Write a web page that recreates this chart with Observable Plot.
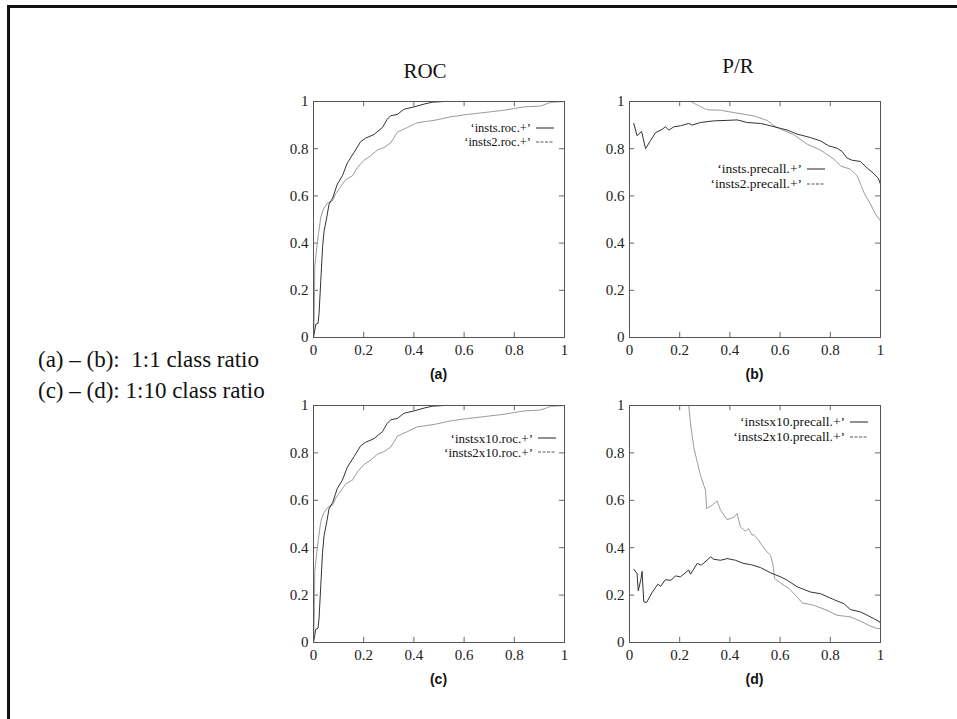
<!DOCTYPE html>
<html><head><meta charset="utf-8">
<script src="https://cdn.jsdelivr.net/npm/d3@7"></script>
<script src="https://cdn.jsdelivr.net/npm/@observablehq/plot@0.6"></script>
<style>
body{margin:0;background:#fff;}
#root{position:relative;width:957px;height:719px;overflow:hidden;font-family:"Liberation Serif","Times New Roman",serif;color:#111;}
.frame{position:absolute;left:7px;top:5px;width:1000px;height:800px;border-top:3px solid #111;border-left:3px solid #111;}
.abs{position:absolute;white-space:nowrap;line-height:1;}
</style></head><body><div id="root"><div class="frame"></div></div>
<script>
// ---- data ----
const ticks = [0, 0.2, 0.4, 0.6, 0.8, 1];
const panelTitles = ["ROC", "P/R"];
const panelLabels = ["(a)", "(b)", "(c)", "(d)"];
const noteLines = ["(a) \u2013 (b):\u00a0 1:1 class ratio", "(c) \u2013 (d): 1:10 class ratio"];
const legendA = ["\u2018insts.roc.+\u2019", "\u2018insts2.roc.+\u2019"];
const legendB = ["\u2018insts.precall.+\u2019", "\u2018insts2.precall.+\u2019"];
const legendC = ["\u2018instsx10.roc.+\u2019", "\u2018insts2x10.roc.+\u2019"];
const legendD = ["\u2018instsx10.precall.+\u2019", "\u2018insts2x10.precall.+\u2019"];

// (a) ROC, 1:1 ratio  [fpr, tpr]
const rocInsts = [[0,0],[0.005,0.03],[0.009,0.056],[0.018,0.06],[0.022,0.1],[0.029,0.24],[0.036,0.38],[0.042,0.45],[0.053,0.51],[0.062,0.565],[0.076,0.59],[0.095,0.65],[0.115,0.685],[0.135,0.74],[0.162,0.785],[0.188,0.83],[0.208,0.845],[0.241,0.86],[0.275,0.89],[0.294,0.925],[0.308,0.94],[0.334,0.945],[0.36,0.967],[0.40,0.977],[0.44,0.989],[0.473,0.997],[0.52,1],[1,1]];
const rocInsts2 = [[0,0],[0.003,0.1],[0.005,0.30],[0.012,0.37],[0.02,0.44],[0.029,0.51],[0.04,0.545],[0.056,0.57],[0.076,0.58],[0.089,0.61],[0.109,0.64],[0.129,0.67],[0.155,0.685],[0.175,0.72],[0.20,0.75],[0.228,0.77],[0.255,0.795],[0.281,0.805],[0.308,0.825],[0.334,0.87],[0.374,0.89],[0.414,0.91],[0.48,0.92],[0.546,0.935],[0.613,0.945],[0.679,0.953],[0.759,0.963],[0.838,0.977],[0.905,0.981],[0.944,0.996],[1,1]];
// (c) ROC, 1:10 ratio
const rocInstsX10 = [[0,0],[0.005,0.03],[0.009,0.056],[0.018,0.06],[0.022,0.1],[0.029,0.24],[0.036,0.38],[0.042,0.45],[0.053,0.51],[0.062,0.565],[0.076,0.59],[0.095,0.65],[0.115,0.685],[0.135,0.74],[0.162,0.785],[0.188,0.83],[0.208,0.845],[0.241,0.86],[0.275,0.89],[0.294,0.925],[0.308,0.94],[0.334,0.945],[0.36,0.967],[0.40,0.977],[0.44,0.989],[0.473,0.997],[0.52,1],[1,1]];
const rocInsts2X10 = [[0,0],[0.003,0.1],[0.005,0.30],[0.012,0.37],[0.02,0.44],[0.029,0.51],[0.04,0.545],[0.056,0.57],[0.076,0.58],[0.089,0.61],[0.109,0.64],[0.129,0.67],[0.155,0.685],[0.175,0.72],[0.20,0.75],[0.228,0.77],[0.255,0.795],[0.281,0.805],[0.308,0.825],[0.334,0.87],[0.374,0.89],[0.414,0.91],[0.48,0.92],[0.546,0.935],[0.613,0.945],[0.679,0.953],[0.759,0.963],[0.838,0.977],[0.905,0.981],[0.944,0.996],[1,1]];
// (b) P/R, 1:1 ratio  [recall, precision]
const prInsts = [[0.017,0.907],[0.03,0.855],[0.048,0.873],[0.064,0.80],[0.084,0.835],[0.104,0.868],[0.13,0.882],[0.143,0.893],[0.157,0.879],[0.177,0.893],[0.203,0.897],[0.236,0.907],[0.25,0.90],[0.283,0.911],[0.336,0.918],[0.389,0.92],[0.429,0.922],[0.469,0.911],[0.522,0.907],[0.562,0.897],[0.602,0.886],[0.628,0.879],[0.668,0.862],[0.721,0.847],[0.761,0.833],[0.794,0.812],[0.827,0.802],[0.847,0.788],[0.867,0.76],[0.887,0.751],[0.92,0.746],[0.947,0.718],[0.973,0.695],[0.991,0.675],[1,0.65]];
const prInsts2 = [[0.017,1],[0.243,1],[0.276,0.982],[0.309,0.965],[0.363,0.963],[0.416,0.953],[0.495,0.939],[0.548,0.92],[0.575,0.897],[0.602,0.883],[0.655,0.859],[0.708,0.819],[0.761,0.794],[0.814,0.756],[0.841,0.727],[0.88,0.713],[0.907,0.685],[0.934,0.614],[0.96,0.565],[0.98,0.523],[1,0.494]];
// (d) P/R, 1:10 ratio
const prInstsX10 = [[0.017,0.309],[0.03,0.291],[0.035,0.218],[0.046,0.27],[0.05,0.30],[0.057,0.171],[0.068,0.169],[0.09,0.211],[0.113,0.246],[0.124,0.237],[0.143,0.265],[0.157,0.263],[0.166,0.263],[0.183,0.281],[0.203,0.277],[0.236,0.306],[0.243,0.288],[0.27,0.334],[0.286,0.326],[0.323,0.361],[0.336,0.351],[0.363,0.347],[0.389,0.354],[0.422,0.347],[0.456,0.333],[0.482,0.329],[0.522,0.316],[0.562,0.294],[0.602,0.277],[0.628,0.263],[0.668,0.235],[0.721,0.213],[0.761,0.206],[0.814,0.181],[0.854,0.164],[0.88,0.139],[0.92,0.129],[0.947,0.115],[0.973,0.101],[0.997,0.087],[1,0.08]];
const prInsts2X10 = [[0.017,1],[0.236,1],[0.243,0.923],[0.256,0.824],[0.27,0.761],[0.283,0.705],[0.296,0.663],[0.303,0.642],[0.307,0.565],[0.329,0.579],[0.349,0.597],[0.363,0.558],[0.389,0.518],[0.416,0.529],[0.429,0.544],[0.442,0.487],[0.462,0.47],[0.475,0.48],[0.489,0.452],[0.495,0.456],[0.515,0.431],[0.528,0.41],[0.548,0.382],[0.562,0.368],[0.572,0.326],[0.578,0.27],[0.602,0.251],[0.635,0.228],[0.668,0.192],[0.688,0.167],[0.734,0.157],[0.787,0.136],[0.827,0.115],[0.88,0.108],[0.92,0.09],[0.96,0.069],[0.987,0.059],[1,0.059]];

// ---- layout ----
const root = document.getElementById("root");
const SOLID = "#333", DOT = "#999";

function place(text, x, y, css, anchor) {
  const d = document.createElement("div");
  d.className = "abs";
  d.textContent = text;
  Object.assign(d.style, css);
  d.style.left = x + "px"; d.style.top = y + "px";
  d.style.transform = anchor === "right" ? "translate(-100%,-50%)" : anchor === "left" ? "translate(0,-50%)" : "translate(-50%,-50%)";
  root.appendChild(d);
}

function sample(x, y, len, dashed) {
  const s = document.createElementNS("http://www.w3.org/2000/svg", "svg");
  s.setAttribute("width", len); s.setAttribute("height", 4);
  s.style.position = "absolute"; s.style.left = x + "px"; s.style.top = (y - 2) + "px";
  const l = document.createElementNS("http://www.w3.org/2000/svg", "line");
  l.setAttribute("x1", 0); l.setAttribute("x2", len); l.setAttribute("y1", 2); l.setAttribute("y2", 2);
  l.setAttribute("stroke", dashed ? "#555" : "#222"); l.setAttribute("stroke-width", 1);
  if (dashed) l.setAttribute("stroke-dasharray", "3,1.5");
  s.appendChild(l); root.appendChild(s);
}

function panel({left, top, w, h, s1, s2, label, legend, legX, legY, legGap, legFont}) {
  const mL = 40, mR = 12, mT = 10, mB = 30;
  const p = Plot.plot({
    width: w + mL + mR, height: h + mT + mB,
    marginLeft: mL, marginRight: mR, marginTop: mT, marginBottom: mB,
    x: {domain: [0, 1]}, y: {domain: [0, 1]},
    style: {fontFamily: "'Liberation Serif', 'Times New Roman', serif", fontSize: "15px", color: "#222", background: "transparent", overflow: "visible"},
    marks: [
      Plot.ruleX(ticks, {x: d => d, y1: 0, y2: 0.022, stroke: "#666"}),
      Plot.ruleX(ticks, {x: d => d, y1: 0.978, y2: 1, stroke: "#666"}),
      Plot.ruleY(ticks, {y: d => d, x1: 0, x2: 0.02, stroke: "#666"}),
      Plot.ruleY(ticks, {y: d => d, x1: 0.98, x2: 1, stroke: "#666"}),
      Plot.axisX({ticks, tickSize: 0, tickPadding: 7, label: null, fill: "#222", fontSize: 15, tickFormat: d => String(d)}),
      Plot.axisY({ticks, tickSize: 0, tickPadding: 5, label: null, fill: "#222", fontSize: 15, tickFormat: d => String(d)}),
      Plot.line(s2, {x: d => d[0], y: d => d[1], stroke: DOT, strokeWidth: 1, strokeDasharray: "1.5,0.7"}),
      Plot.line(s1, {x: d => d[0], y: d => d[1], stroke: SOLID, strokeWidth: 1}),
      Plot.frame({stroke: "#555"})
    ]
  });
  p.style.position = "absolute";
  p.style.left = (left - mL) + "px";
  p.style.top = (top - mT) + "px";
  root.appendChild(p);
  place(label, left + w / 2, top + h + 37, {fontFamily: "'Liberation Sans', Arial, sans-serif", fontWeight: "bold", fontSize: "14px"});
  legend.forEach((t, i) => {
    place(t, legX, legY + i * legGap, {fontSize: legFont + "px"}, "right");
    sample(legX + 5, legY + i * legGap, 18, i === 1);
  });
}

panel({left: 313, top: 101, w: 251, h: 236, s1: rocInsts, s2: rocInsts2, label: panelLabels[0], legend: legendA, legX: 531, legY: 128, legGap: 13.5, legFont: 12.5});
panel({left: 629, top: 101, w: 251, h: 236, s1: prInsts, s2: prInsts2, label: panelLabels[1], legend: legendB, legX: 802, legY: 169, legGap: 15, legFont: 13.5});
panel({left: 313, top: 405, w: 251, h: 237, s1: rocInstsX10, s2: rocInsts2X10, label: panelLabels[2], legend: legendC, legX: 533, legY: 438, legGap: 14, legFont: 13});
panel({left: 629, top: 405, w: 251, h: 237, s1: prInstsX10, s2: prInsts2X10, label: panelLabels[3], legend: legendD, legX: 845, legY: 422, legGap: 15, legFont: 13.5});

place(panelTitles[0], 425, 71, {fontSize: "21px"});
place(panelTitles[1], 738, 66, {fontSize: "21px"});
place(noteLines[0], 38, 359, {fontSize: "23px"}, "left");
place(noteLines[1], 38, 390, {fontSize: "23px"}, "left");
</script>
</body></html>
